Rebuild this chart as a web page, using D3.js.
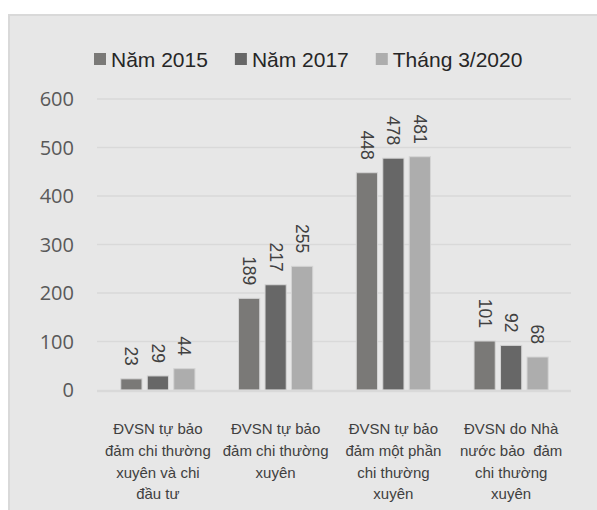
<!DOCTYPE html>
<meta charset="utf-8">
<style>
  body { margin: 0; background: #fff; }
  svg { display: block; }
  .legend text { font: 21px "Liberation Sans", Arial, sans-serif; fill: #262626; }
  .tick-label { font: 20px "Open Sans", sans-serif; fill: #595959; }
  .val { font: 17.5px "Liberation Sans", Arial, sans-serif; fill: #404040; }
  .cat { font: 15px "Liberation Sans", Arial, sans-serif; fill: #404040; }
</style>
<svg width="597" height="510"></svg>
<script src="https://cdnjs.cloudflare.com/ajax/libs/d3/7.8.5/d3.min.js"></script>
<script>

// data
var series = ["Năm 2015", "Năm 2017", "Tháng 3/2020"];
var colors = ["#7a7977", "#676767", "#adadad"];
var categories = [
  ["ĐVSN tự bảo", "đảm chi thường", "xuyên và chi", "đầu tư"],
  ["ĐVSN tự bảo", "đảm chi thường", "xuyên"],
  ["ĐVSN tự bảo", "đảm một phần", "chi thường", "xuyên"],
  ["ĐVSN do Nhà", "nước bảo  đảm", "chi thường", "xuyên"]
];
var values2015 = [23, 189, 448, 101];
var values2017 = [29, 217, 478, 92];
var values2020 = [44, 255, 481, 68];
var yTicks = [0, 100, 200, 300, 400, 500, 600];

var allValues = [values2015, values2017, values2020];

var svg = d3.select("svg"),
    width = +svg.attr("width"),
    height = +svg.attr("height");

// grey panel
svg.append("rect")
    .attr("x", 9).attr("y", 15)
    .attr("width", width).attr("height", height)
    .attr("fill", "#e7e7e7")
    .attr("stroke", "#d9d9d9")
    .attr("stroke-width", 2);

var x0 = d3.scaleBand()
    .domain(d3.range(categories.length))
    .range([99, 570])
    .paddingInner(0.37)
    .paddingOuter(0.185);

var x1 = d3.scaleBand()
    .domain(d3.range(series.length))
    .range([0, x0.bandwidth()])
    .paddingInner(0.2);

var y = d3.scaleLinear()
    .domain([0, 600])
    .range([390, 99]);

// gridlines
svg.append("g")
  .selectAll("line")
  .data(yTicks.filter(function(d) { return d > 0; }))
  .enter().append("line")
    .attr("x1", 97).attr("x2", 571)
    .attr("y1", function(d) { return y(d); })
    .attr("y2", function(d) { return y(d); })
    .attr("stroke", "#d9d9d9")
    .attr("stroke-width", 1.5);

// y tick labels
svg.append("g")
  .selectAll("text")
  .data(yTicks)
  .enter().append("text")
    .attr("class", "tick-label")
    .attr("x", 74)
    .attr("y", function(d) { return y(d); })
    .attr("dy", "0.35em")
    .attr("text-anchor", "end")
    .text(function(d) { return d; });

// bars
var groups = svg.append("g")
  .selectAll("g")
  .data(categories)
  .enter().append("g")
    .attr("transform", function(d, i) { return "translate(" + x0(i) + ",0)"; });

groups.selectAll("rect")
  .data(function(d, i) { return allValues.map(function(v, s) { return {s: s, v: v[i]}; }); })
  .enter().append("rect")
    .attr("x", function(d) { return x1(d.s); })
    .attr("width", x1.bandwidth())
    .attr("y", function(d) { return y(d.v); })
    .attr("height", function(d) { return y(0) - y(d.v); })
    .attr("fill", function(d) { return colors[d.s]; })
    .attr("stroke", "#d4d4d4")
    .attr("stroke-width", 1);

// rotated value labels
groups.selectAll("text")
  .data(function(d, i) { return allValues.map(function(v, s) { return {s: s, v: v[i]}; }); })
  .enter().append("text")
    .attr("class", "val")
    .attr("text-anchor", "end")
    .attr("dy", "0.35em")
    .attr("transform", function(d) {
      return "translate(" + (x1(d.s) + x1.bandwidth() / 2) + "," + (y(d.v) - 13) + ") rotate(90)";
    })
    .text(function(d) { return d.v; });

// x axis line
svg.append("line")
    .attr("x1", 97).attr("x2", 571)
    .attr("y1", y(0) + 1).attr("y2", y(0) + 1)
    .attr("stroke", "#d9d9d9")
    .attr("stroke-width", 2.5);

// category labels
var cat = svg.append("g")
  .selectAll("text")
  .data(categories)
  .enter().append("text")
    .attr("class", "cat")
    .attr("text-anchor", "middle")
    .attr("x", function(d, i) { return x0(i) + x0.bandwidth() / 2; })
    .attr("y", 434);

cat.selectAll("tspan")
  .data(function(d) { return d; })
  .enter().append("tspan")
    .attr("x", function() { return d3.select(this.parentNode).attr("x"); })
    .attr("dy", function(d, i) { return i ? 21.8 : 0; })
    .style("white-space", "pre")
    .text(function(d) { return d; });

// legend
var legend = svg.append("g").attr("class", "legend");
var lx = 94;
series.forEach(function(name, i) {
  legend.append("rect")
    .attr("x", lx).attr("y", 53)
    .attr("width", 12).attr("height", 12)
    .attr("fill", colors[i]);
  var t = legend.append("text")
    .attr("x", lx + 17)
    .attr("y", 67)
    .text(name);
  lx += 17 + t.node().getComputedTextLength() + 27;
});

</script>
